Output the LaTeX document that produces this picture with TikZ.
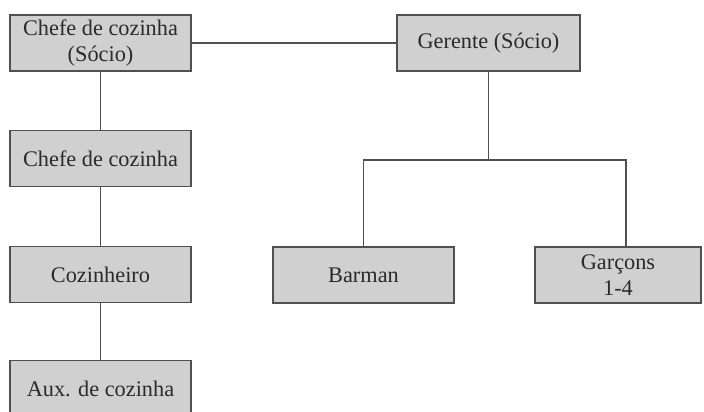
\documentclass[tikz,border=0pt]{standalone}
\usepackage{fontspec}
\setmainfont{Liberation Serif}
\usetikzlibrary{calc}
\definecolor{boxfill}{HTML}{D0D0D0}
\definecolor{boxline}{HTML}{505050}
\definecolor{boxtext}{HTML}{2A2A2A}
\tikzset{
	cargo/.style={draw=boxline, fill=boxfill, line width=1.6pt, text=boxtext,
		minimum width=181pt, minimum height=56pt, inner sep=0pt, align=center,
		font=\fontsize{22.3}{26}\selectfont},
	ligacao/.style={draw=boxline, line width=1.8pt}
}
\begin{document}
\begin{tikzpicture}[x=1pt, y=-1pt]
			\useasboundingbox (0,0) rectangle (704,412);
			\clip (0,0) rectangle (704,412);
			\node[cargo] (chefesocio) at (100.5,43) {Chefe de cozinha\\(Sócio)};
			\node[cargo] (chefe) at (100.5,158.5) {Chefe de cozinha};
			\node[cargo] (cozinheiro) at (100.5,274.5) {Cozinheiro};
			\node[cargo] (aux) at (100.5,388.5) {Aux. de cozinha};
			\node[cargo, minimum width=183pt] (gerente) at (488.5,43) {Gerente (Sócio)};
			\node[cargo] (barman) at (363.5,275) {Barman};
			\node[cargo, minimum width=166pt] (garcons) at (618,275) {Garçons\\1-4};
			\coordinate (barra) at ($(gerente.south)+(0,88)$);
			\coordinate (topogarcons) at ($(garcons.north)+(8,0)$);
			\draw[ligacao] (chefesocio) -- (gerente);
			\draw[ligacao] (chefesocio) -- (chefe);
			\draw[ligacao] (chefe) -- (cozinheiro);
			\draw[ligacao] (cozinheiro) -- (aux);
			\draw[ligacao] (gerente) -- (barra);
			\draw[ligacao] (barman.north) |- (barra) -| (topogarcons);
		\end{tikzpicture}
\end{document}
